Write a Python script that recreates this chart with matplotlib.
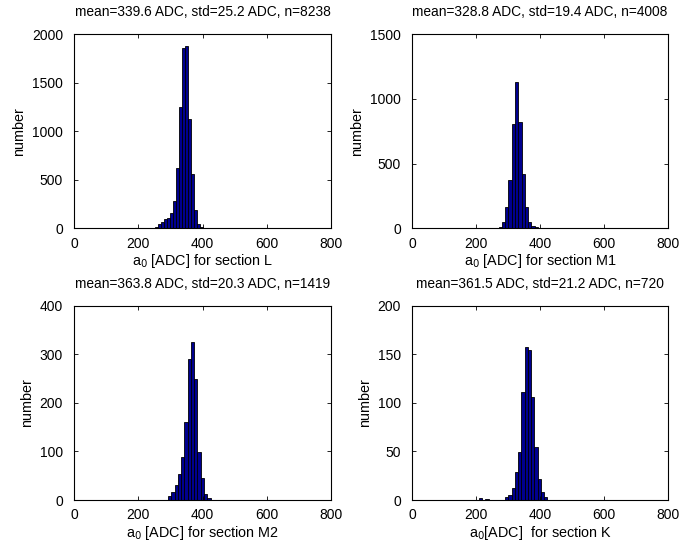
import numpy as np
import matplotlib
matplotlib.use("Agg")
import matplotlib.pyplot as plt

plt.rcParams['font.family'] = ['Liberation Sans', 'DejaVu Sans']
plt.rcParams['font.size'] = 10

# histogram counts (contiguous bins)
L_start, L_width = 252.0, 9.25
L_counts = [13, 41, 68, 92, 103, 161, 278, 624, 1245, 1855, 1873, 1121, 559, 185, 41, 10]

M1_start, M1_width = 250.4, 10.2
M1_counts = [4, 6, 10, 51, 167, 373, 803, 1132, 821, 417, 162, 46, 18, 7]

M2_start, M2_width = 292.6, 10.2
M2_counts = [8, 16, 30, 53, 88, 160, 291, 325, 250, 99, 45, 12, 4]

K_start, K_width = 209.0, 10.2
K_counts = [2, 0, 1, 0, 0, 0, 0, 0, 3, 5, 12, 29, 49, 111, 158, 154, 106, 55, 22, 8, 3]

titles = ["mean=339.6 ADC, std=25.2 ADC, n=8238",
          "mean=328.8 ADC, std=19.4 ADC, n=4008",
          "mean=363.8 ADC, std=20.3 ADC, n=1419",
          "mean=361.5 ADC, std=21.2 ADC, n=720"]
xlabels = ["a$_0$ [ADC] for section L",
           "a$_0$ [ADC] for section M1",
           "a$_0$ [ADC] for section M2",
           "a$_0$[ADC]  for section K"]
ylims = [2000, 1500, 400, 200]
ysteps = [500, 500, 100, 50]
xticks = [0, 200, 400, 600, 800]

panels = [(L_start, L_width, L_counts),
          (M1_start, M1_width, M1_counts),
          (M2_start, M2_width, M2_counts),
          (K_start, K_width, K_counts)]

fig = plt.figure(figsize=(6.93, 5.49), dpi=100)
W, H = 693.0, 549.0
boxes = [(74, 34, 257, 194.3), (412, 34, 256, 194.3),
         (74, 305.7, 257, 194.3), (412, 305.7, 256, 194.3)]

for i, (start, width, counts) in enumerate(panels):
    x0, y0, w, h = boxes[i]
    ax = fig.add_axes([x0 / W, 1 - (y0 + h) / H, w / W, h / H])
    counts = np.array(counts)
    centers = start + width * (np.arange(len(counts)) + 0.5)
    ax.bar(centers, counts, width=width, color='#00008f', edgecolor='black', linewidth=0.6)
    ax.set_xlim(0, 800)
    ax.set_ylim(0, ylims[i])
    ax.set_xticks(xticks)
    ax.set_yticks(np.arange(0, ylims[i] + 1, ysteps[i]))
    ax.tick_params(direction='in', top=True, right=True, length=3, width=0.6,
                   labelsize=10)
    ax.tick_params(axis='x', pad=6)
    ax.tick_params(axis='y', pad=8)
    for s in ax.spines.values():
        s.set_linewidth(0.8)
    ax.set_title(titles[i], fontsize=9.9, pad=13)
    ax.set_xlabel(xlabels[i], fontsize=10.4, labelpad=1)
    ax.set_ylabel("number", fontsize=10.4, labelpad=4)

fig.savefig("out.png", dpi=100)
